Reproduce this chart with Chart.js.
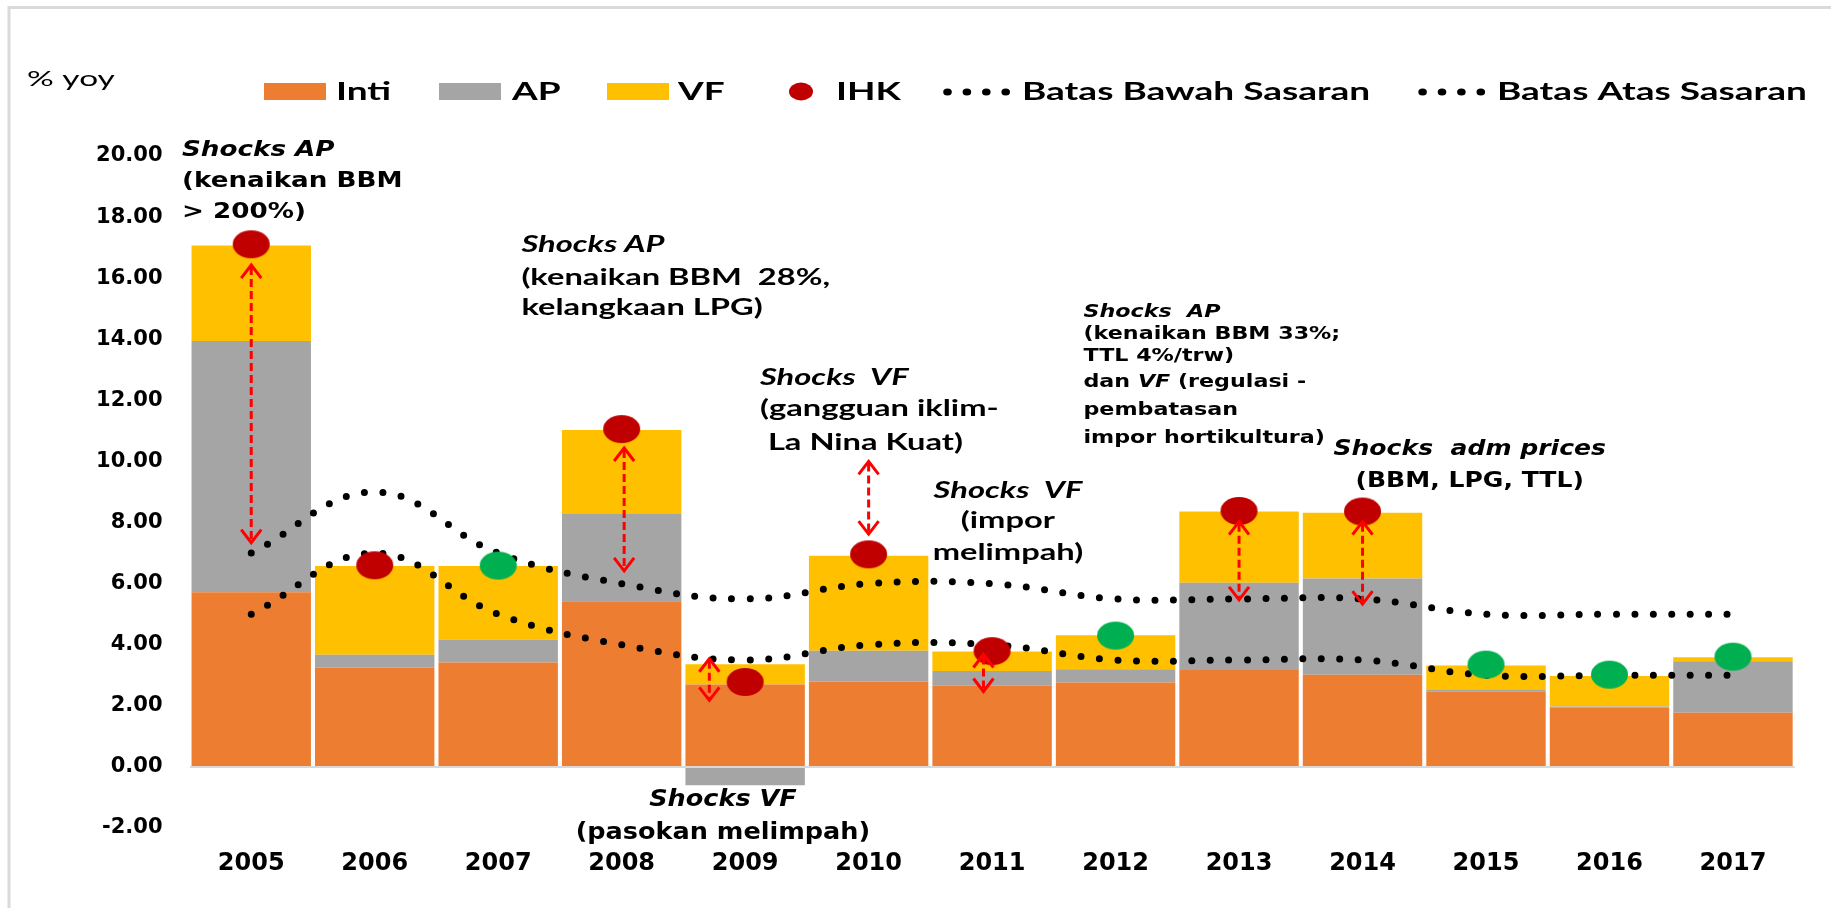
<!DOCTYPE html>
<html>
<head>
<meta charset="utf-8">
<script src="https://cdn.jsdelivr.net/npm/chart.js@4.4.1/dist/chart.umd.min.js"></script>
<style>
  html, body { margin: 0; padding: 0; background: #fff; }
  #wrap { width: 1831px; height: 908px; position: relative; }
</style>
</head>
<body>
<div id="wrap"><canvas id="inflasi"></canvas></div>
<script>
// --- data ---
const years = ['2005', '2006', '2007', '2008', '2009', '2010', '2011', '2012', '2013', '2014', '2015', '2016', '2017'];
const inti = [5.72, 3.25, 3.42, 5.42, 2.70, 2.80, 2.66, 2.76, 3.17, 3.02, 2.46, 1.94, 1.77];
const ap   = [8.22, 0.42, 0.75, 2.86, -0.60, 1.00, 0.48, 0.44, 2.86, 3.15, 0.06, 0.04, 1.69];
const vf   = [3.13, 2.91, 2.41, 2.75, 0.66, 3.11, 0.64, 1.11, 2.33, 2.15, 0.80, 1.00, 0.13];
const ihk  = [17.11, 6.60, 6.59, 11.06, 2.78, 6.96, 3.79, 4.30, 8.38, 8.36, 3.35, 3.02, 3.61];
const batasBawah = [5, 7, 5, 4, 3.5, 4, 4, 3.5, 3.5, 3.5, 3, 3, 3];
const batasAtas  = [7, 9, 7, 6, 5.5, 6, 6, 5.5, 5.5, 5.5, 5, 5, 5];
const yMin = -2, yMax = 20, yStep = 2;

// red double arrows: category position, upper and lower end (value)
const arrowAt     = [0, 3.02, 3.71, 5.0, 5.93, 8.0, 9.0];
const arrowTop    = [16.43, 10.44, 3.54, 10.0, 3.68, 8.03, 8.03];
const arrowBottom = [7.34, 6.42, 2.18, 7.62, 2.47, 5.47, 5.33];

// callouts: x = category position, y = value at first baseline
const notes = [
  { x: -0.561, y: 19.99, align: 'left', fam: '"DejaVu Sans"', size: 22, sx: 1.19, dy: [0, 31, 62],
    lines: [[['Shocks AP', 1]], [['(kenaikan BBM', 0]], [['> 200%)', 0]]] },
  { x: 2.188, y: 16.86, align: 'left', fam: 'Lato', size: 23, sx: 1.42, dy: [0, 33, 63],
    lines: [[['Shocks AP', 1]], [['(kenaikan BBM  28%,', 0]], [['kelangkaan LPG)', 0]]] },
  { x: 4.12, y: 12.51, align: 'left', fam: 'Lato', size: 23, sx: 1.42, dy: [0, 31, 65],
    lines: [[['Shocks  VF', 1]], [['(gangguan iklim-', 0]], [[' La Nina Kuat)', 0]]] },
  { x: 6.128, y: 8.81, align: 'center', fam: 'Lato', size: 23, sx: 1.42, dy: [0, 30, 62],
    lines: [[['Shocks  VF', 1]], [['(impor', 0]], [['melimpah)', 0]]] },
  { x: 6.74, y: 14.74, align: 'left', fam: '"DejaVu Sans"', size: 18.5, sx: 1.2, dy: [0, 22, 44, 70, 98, 126],
    lines: [[['Shocks  AP', 1]], [['(kenaikan BBM 33%;', 0]], [['TTL 4%/trw)', 0]],
            [['dan ', 0], ['VF', 1], [' (regulasi -', 0]], [['pembatasan', 0]], [['impor hortikultura)', 0]]] },
  { x: 9.868, y: 10.2, align: 'center', fam: '"DejaVu Sans"', size: 22, sx: 1.14, dy: [0, 31.4],
    lines: [[['Shocks  adm prices', 1]], [['(BBM, LPG, TTL)', 0]]] },
  { x: 3.82, y: -1.27, align: 'center', fam: '"DejaVu Sans"', size: 23, sx: 1.11, dy: [0, 33],
    lines: [[['Shocks VF', 1]], [['(pasokan melimpah)', 0]]] }
];

const RED = '#C00000', GREEN = '#00B050';

function dotImage(color, rx, ry) {
  const c = document.createElement('canvas');
  c.width = Math.ceil(rx * 2) + 2;
  c.height = Math.ceil(ry * 2) + 2;
  const g = c.getContext('2d');
  g.fillStyle = color;
  g.beginPath();
  g.ellipse(c.width / 2, c.height / 2, rx, ry, 0, 0, Math.PI * 2);
  g.fill();
  return c;
}
const redDot = dotImage(RED, 18.5, 14);
const greenDot = dotImage(GREEN, 18.5, 14);
// on target -> green, off target -> red
const ihkStyle = ihk.map((v, i) => (v >= batasBawah[i] && v <= batasAtas[i]) ? greenDot : redDot);

// text runs, stretched sideways like the original slide
function drawRuns(ctx, runs, x, y, align, fam, size, sx, weight) {
  const fonts = runs.map(r => (r[1] ? 'italic ' : '') + (weight || 'bold') + ' ' + size + 'px ' + fam);
  const widths = runs.map((r, i) => { ctx.font = fonts[i]; return ctx.measureText(r[0]).width * sx; });
  const total = widths.reduce((a, b) => a + b, 0);
  let cx = align === 'center' ? x - total / 2 : x;
  runs.forEach((r, i) => {
    ctx.save();
    ctx.translate(cx, y);
    ctx.scale(sx, 1);
    ctx.font = fonts[i];
    ctx.textAlign = 'left';
    ctx.textBaseline = 'alphabetic';
    ctx.fillStyle = '#000';
    ctx.fillText(r[0], 0, 0);
    ctx.restore();
    cx += widths[i];
  });
}

function drawArrow(ctx, x, y1, y2) {
  ctx.save();
  ctx.strokeStyle = '#FF0000';
  ctx.lineWidth = 3;
  ctx.setLineDash([8, 4]);
  ctx.beginPath();
  ctx.moveTo(x, y1 + 2);
  ctx.lineTo(x, y2 - 2);
  ctx.stroke();
  ctx.setLineDash([]);
  ctx.beginPath();
  ctx.moveTo(x - 10, y1 + 13); ctx.lineTo(x, y1); ctx.lineTo(x + 10, y1 + 13);
  ctx.moveTo(x - 10, y2 - 13); ctx.lineTo(x, y2); ctx.lineTo(x + 10, y2 - 13);
  ctx.stroke();
  ctx.restore();
}

const extras = {
  id: 'extras',
  afterDatasetsDraw(chart) {
    const { ctx, scales: { x, y } } = chart;
    arrowAt.forEach((p, i) => {
      drawArrow(ctx, x.getPixelForValue(p), y.getPixelForValue(arrowTop[i]), y.getPixelForValue(arrowBottom[i]));
    });
  },
  afterDraw(chart) {
    const { ctx, scales: { x, y } } = chart;
    ctx.save();

    // slide frame
    ctx.strokeStyle = '#dadada';
    ctx.lineWidth = 3;
    ctx.beginPath();
    ctx.moveTo(9, 908); ctx.lineTo(9, 7.5); ctx.lineTo(1831, 7.5);
    ctx.stroke();

    // callouts
    notes.forEach(n => {
      const px = x.getPixelForValue(n.x);
      const py = y.getPixelForValue(n.y);
      n.lines.forEach((runs, k) => drawRuns(ctx, runs, px, py + n.dy[k], n.align, n.fam, n.size, n.sx));
    });

    // legend
    drawRuns(ctx, [['% yoy', 0]], 27, 86, 'left', 'Lato', 22, 1.52, 'normal');
    const ds = chart.data.datasets;
    const byLabel = l => ds.find(d => d.label === l);
    const base = 100;
    [['Inti', 264, 336], ['AP', 439, 512], ['VF', 607, 678]].forEach(([l, bx, tx]) => {
      ctx.fillStyle = byLabel(l).backgroundColor;
      ctx.fillRect(bx, 83, 62, 17);
      drawRuns(ctx, [[l, 0]], tx, base, 'left', 'Lato', 25, 1.48);
    });
    ctx.fillStyle = RED;
    ctx.beginPath();
    ctx.ellipse(801, 91.5, 12, 9, 0, 0, Math.PI * 2);
    ctx.fill();
    drawRuns(ctx, [['IHK', 0]], 836, base, 'left', 'Lato', 25, 1.48);
    [['Batas Bawah Sasaran', 947.5, 1022], ['Batas Atas Sasaran', 1422.6, 1497]].forEach(([l, dx, tx]) => {
      ctx.fillStyle = byLabel(l).borderColor;
      for (let k = 0; k < 4; k++) {
        ctx.beginPath();
        ctx.ellipse(dx + k * 19.4, 92, 4.3, 3.6, 0, 0, Math.PI * 2);
        ctx.fill();
      }
      drawRuns(ctx, [[l, 0]], tx, base, 'left', 'Lato', 25, 1.48);
    });
    ctx.restore();
  }
};

const dotted = (label, data, stack) => ({
  type: 'line', label, data, stack, order: 1,
  borderColor: '#000', borderWidth: 7, borderDash: [0, 18.5], borderCapStyle: 'round',
  tension: 0.4, pointRadius: 0, fill: false
});
const bar = (label, data, color) => ({
  type: 'bar', label, data, backgroundColor: color, stack: 'cpi', order: 2,
  barPercentage: 0.967, categoryPercentage: 1
});

new Chart(document.getElementById('inflasi'), {
  data: {
    labels: years,
    datasets: [
      { type: 'line', label: 'IHK', data: ihk, stack: 'ihk', order: 0, showLine: false,
        pointStyle: ihkStyle, pointRadius: 15 },
      dotted('Batas Bawah Sasaran', batasBawah, 'bawah'),
      dotted('Batas Atas Sasaran', batasAtas, 'atas'),
      bar('Inti', inti, '#ED7D31'),
      bar('AP', ap, '#A5A5A5'),
      bar('VF', vf, '#FFC000')
    ]
  },
  options: {
    responsive: true,
    maintainAspectRatio: false,
    animation: false,
    events: [],
    layout: { padding: { top: 156, right: 36.3, bottom: 0, left: 0 } },
    plugins: { legend: { display: false }, tooltip: { enabled: false } },
    scales: {
      x: {
        afterFit: s => { s.height = 80; },
        grid: { display: false, drawTicks: false },
        border: { display: false },
        ticks: { color: '#000', padding: 21, maxRotation: 0,
                 font: { family: '"DejaVu Sans"', weight: 'bold', size: 24 } }
      },
      y: {
        stacked: true,
        min: yMin, max: yMax,
        afterFit: s => { s.width = 189.5; },
        border: { display: false },
        grid: { drawTicks: false, lineWidth: 2,
                color: c => (c.tick && c.tick.value === 0) ? '#d9d9d9' : 'rgba(0,0,0,0)' },
        ticks: { stepSize: yStep, color: '#000', padding: 27,
                 callback: v => v.toFixed(2),
                 font: { family: '"DejaVu Sans"', weight: 'bold', size: 21 } }
      }
    }
  },
  plugins: [extras]
});
</script>
</body>
</html>
